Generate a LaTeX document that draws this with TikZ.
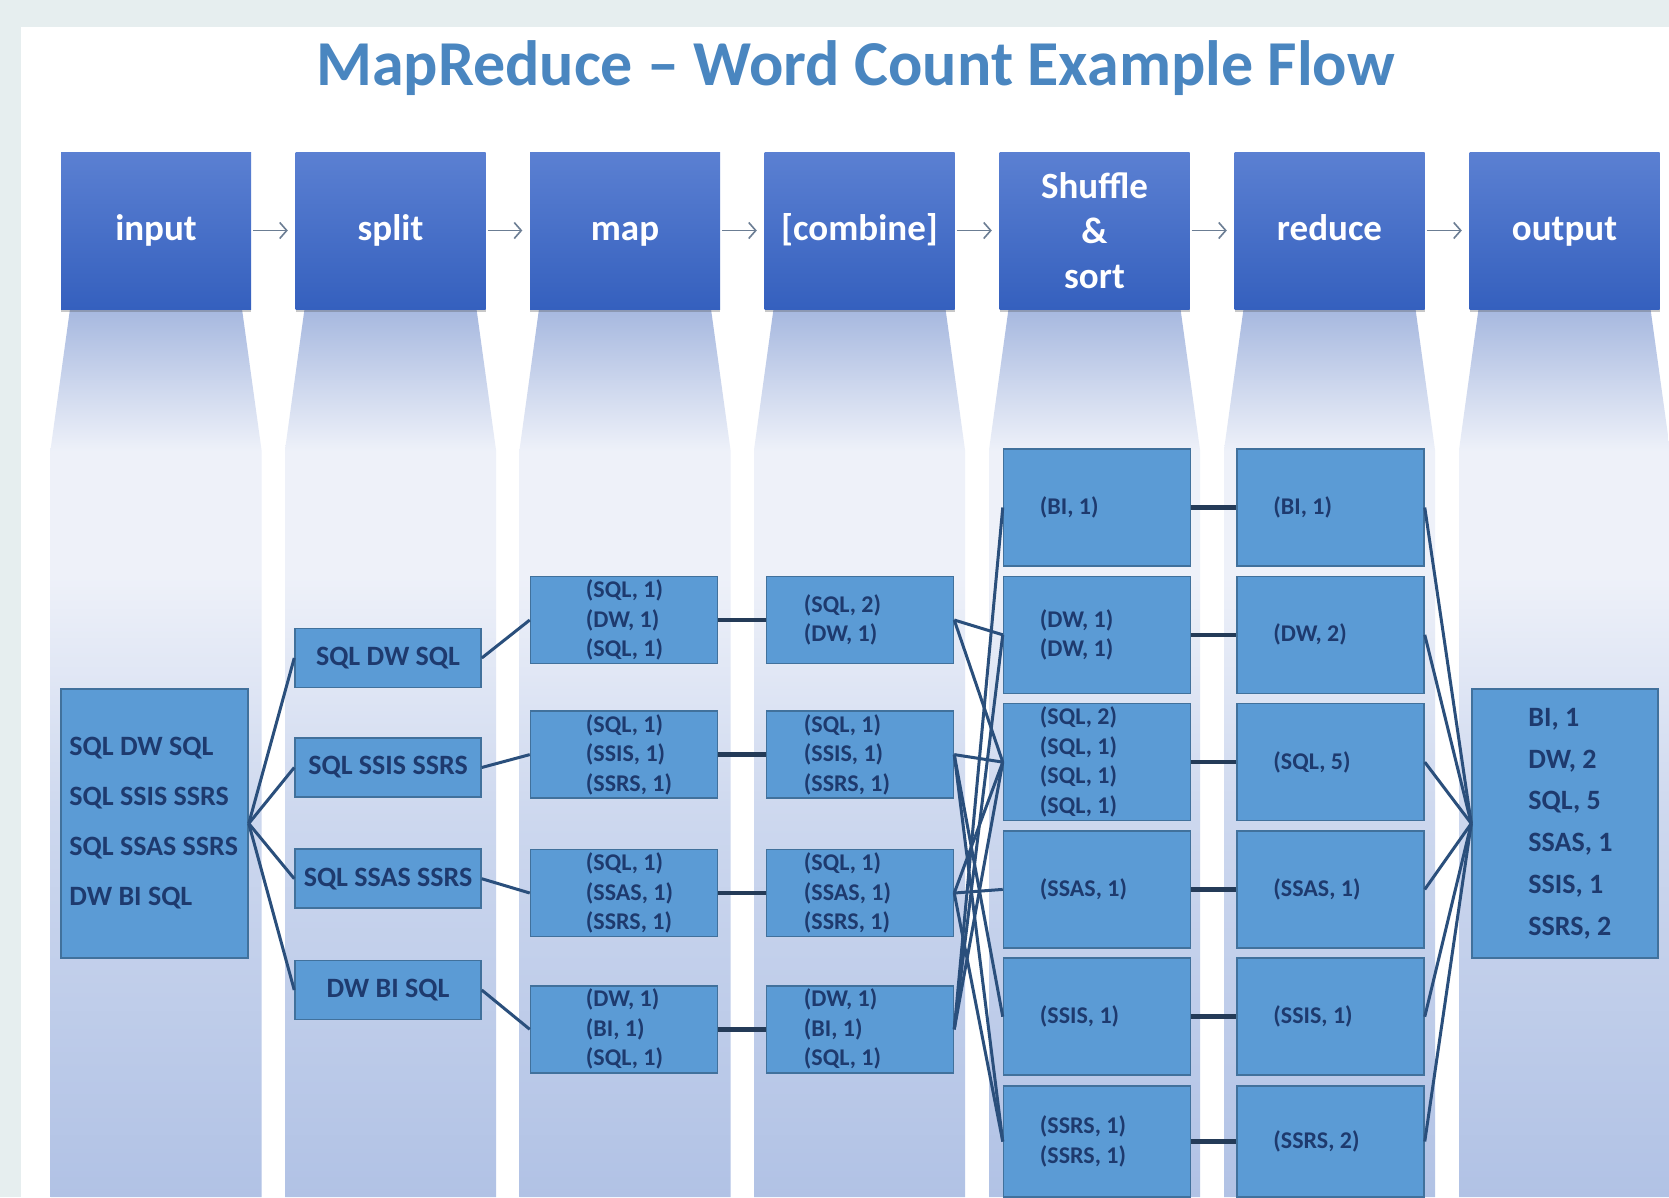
\documentclass[tikz,border=0pt]{standalone}
\usepackage{fontspec}
\setmainfont{Carlito}
\usetikzlibrary{arrows.meta,shadows}
\definecolor{frame}{HTML}{E6EEEF}
\definecolor{titleblue}{HTML}{4A86C0}
\definecolor{hdtop}{HTML}{5B80D2}
\definecolor{hdbot}{HTML}{3560BE}
\definecolor{lanedark}{HTML}{A6B8DF}
\definecolor{lanelight}{HTML}{EEF1F9}
\definecolor{lanemid}{HTML}{CCD7EE}
\definecolor{lanebot}{HTML}{B1C2E5}
\definecolor{boxfill}{HTML}{5B9BD5}
\definecolor{boxline}{HTML}{41719C}
\definecolor{txtnavy}{HTML}{1E3A6E}
\definecolor{linkc}{HTML}{2A4F7C}
\definecolor{linkdark}{HTML}{243B58}
\definecolor{arrowgrey}{HTML}{6B7D93}
\pgfdeclareverticalshading{laneshade}{100bp}{color(0bp)=(lanebot); color(25bp)=(lanebot);
  color(46bp)=(lanemid); color(60bp)=(lanelight); color(67bp)=(lanelight);
  color(75bp)=(lanedark); color(100bp)=(lanedark)}
\begin{document}
\begin{tikzpicture}[x=1pt,y=-1pt,
  hdr/.style={minimum width=190pt, minimum height=157pt, inner sep=0pt,
    top color=hdtop, bottom color=hdbot, text=white, align=center,
    font=\fontsize{37}{45}\selectfont\bfseries,
    drop shadow={shadow xshift=0pt, shadow yshift=-3pt, opacity=.3, fill=black!70}},
  hdrone/.style={hdr, text height=27pt, text depth=8pt},
  dbox/.style={draw=boxline, line width=1.5pt, fill=boxfill, inner sep=0pt},
  dtxt/.style={inner sep=0pt, anchor=west, align=left, text=txtnavy,
    font=\fontsize{24}{29.5}\selectfont\bfseries},
  splitbox/.style={dbox, minimum width=186pt, minimum height=59pt, text=txtnavy,
    font=\fontsize{28}{34}\selectfont\bfseries},
  mbox/.style={dbox, minimum width=187pt, minimum height=87pt},
  sbox/.style={dbox, minimum width=187pt, minimum height=117pt},
  linkline/.style={draw=linkc, line width=3pt},
  hlink/.style={draw=linkdark, line width=4.5pt},
  harrow/.style={draw=arrowgrey, line width=1.6pt, shorten <=2pt, shorten >=7.5pt,
    -{Straight Barb[length=7pt, width=16pt]}}
]
\useasboundingbox (0,0) rectangle (1669,1197);
\clip (0,0) rectangle (1669,1197);
% background
\fill[frame] (0,0) rectangle (1669,1197);
\fill[white] (21,27) rectangle (1669,1197);
% lanes
\foreach \cx in {156,390.5,625,859.5,1094.5,1329.5,1564.5}{
  \shade[shading=laneshade]
    ({\cx-86},309) -- ({\cx+86},309) -- ({\cx+105.5},450) -- ({\cx+105.5},1197)
    -- ({\cx-105.5},1197) -- ({\cx-105.5},450) -- cycle;
}
% title
\node[anchor=base, inner sep=0pt, text=titleblue, font=\fontsize{64}{70}\selectfont\bfseries]
  (title) at (855.5,85) {MapReduce – Word Count Example Flow};
% headers
\node[hdrone] (h1) at (156,230.5) {input};
\node[hdrone] (h2) at (390.5,230.5) {split};
\node[hdrone] (h3) at (625,230.5) {map};
\node[hdrone] (h4) at (859.5,230.5) {[combine]};
\node[hdr] (h5) at (1094.5,230.5) {Shuffle\\\&\\sort};
\node[hdrone] (h6) at (1329.5,230.5) {reduce};
\node[hdrone] (h7) at (1564.5,230.5) {output};
\foreach \a/\b in {h1/h2,h2/h3,h3/h4,h4/h5,h5/h6,h6/h7}
  \draw[harrow] (\a.east) -- (\b.west);
% input
\node[dbox, minimum width=187pt, minimum height=269pt] (in) at (154.5,823.5) {};
\node[dtxt, font=\fontsize{28}{50}\selectfont\bfseries] (intx) at ([xshift=9pt]in.west)
  {SQL DW SQL\\SQL SSIS SSRS\\SQL SSAS SSRS\\DW BI SQL};
% split
\node[splitbox] (sp1) at (388,658) {SQL DW SQL};
\node[splitbox] (sp2) at (388,767.5) {SQL SSIS SSRS};
\node[splitbox] (sp3) at (388,878.7) {SQL SSAS SSRS};
\node[splitbox] (sp4) at (388,990) {DW BI SQL};
% map
\node[mbox] (m1) at (624,620) {};
\node[mbox] (m2) at (624,754.6) {};
\node[mbox] (m3) at (624,893) {};
\node[mbox] (m4) at (624,1029.3) {};
\node[dtxt] (m1t) at ([xshift=56pt]m1.west) {(SQL, 1)\\(DW, 1)\\(SQL, 1)};
\node[dtxt] (m2t) at ([xshift=56pt]m2.west) {(SQL, 1)\\(SSIS, 1)\\(SSRS, 1)};
\node[dtxt] (m3t) at ([xshift=56pt]m3.west) {(SQL, 1)\\(SSAS, 1)\\(SSRS, 1)};
\node[dtxt] (m4t) at ([xshift=56pt]m4.west) {(DW, 1)\\(BI, 1)\\(SQL, 1)};
% combine
\node[mbox] (c1) at (860,620) {};
\node[mbox] (c2) at (860,754.6) {};
\node[mbox] (c3) at (860,893) {};
\node[mbox] (c4) at (860,1029.3) {};
\node[dtxt] (c1t) at ([xshift=38pt]c1.west) {(SQL, 2)\\(DW, 1)};
\node[dtxt] (c2t) at ([xshift=38pt]c2.west) {(SQL, 1)\\(SSIS, 1)\\(SSRS, 1)};
\node[dtxt] (c3t) at ([xshift=38pt]c3.west) {(SQL, 1)\\(SSAS, 1)\\(SSRS, 1)};
\node[dtxt] (c4t) at ([xshift=38pt]c4.west) {(DW, 1)\\(BI, 1)\\(SQL, 1)};
% shuffle
\node[sbox] (s1) at (1097,507.5) {};
\node[sbox] (s2) at (1097,634.8) {};
\node[sbox] (s3) at (1097,762.1) {};
\node[sbox] (s4) at (1097,889.4) {};
\node[sbox] (s5) at (1097,1016.7) {};
\node[sbox, minimum height=111pt] (s6) at (1097,1141.5) {};
\node[dtxt] (s1t) at ([xshift=37pt]s1.west) {(BI, 1)};
\node[dtxt] (s2t) at ([xshift=37pt]s2.west) {(DW, 1)\\(DW, 1)};
\node[dtxt] (s3t) at ([xshift=37pt]s3.west) {(SQL, 2)\\(SQL, 1)\\(SQL, 1)\\(SQL, 1)};
\node[dtxt] (s4t) at ([xshift=37pt]s4.west) {(SSAS, 1)};
\node[dtxt] (s5t) at ([xshift=37pt]s5.west) {(SSIS, 1)};
\node[dtxt] (s6t) at ([xshift=37pt]s6.west) {(SSRS, 1)\\(SSRS, 1)};
% reduce
\node[sbox] (r1) at (1330.5,507.5) {};
\node[sbox] (r2) at (1330.5,634.8) {};
\node[sbox] (r3) at (1330.5,762.1) {};
\node[sbox] (r4) at (1330.5,889.4) {};
\node[sbox] (r5) at (1330.5,1016.7) {};
\node[sbox, minimum height=111pt] (r6) at (1330.5,1141.5) {};
\node[dtxt] (r1t) at ([xshift=37pt]r1.west) {(BI, 1)};
\node[dtxt] (r2t) at ([xshift=37pt]r2.west) {(DW, 2)};
\node[dtxt] (r3t) at ([xshift=37pt]r3.west) {(SQL, 5)};
\node[dtxt] (r4t) at ([xshift=37pt]r4.west) {(SSAS, 1)};
\node[dtxt] (r5t) at ([xshift=37pt]r5.west) {(SSIS, 1)};
\node[dtxt] (r6t) at ([xshift=37pt]r6.west) {(SSRS, 2)};
% output
\node[dbox, minimum width=186pt, minimum height=269pt] (out) at (1565,823.5) {};
\node[dtxt, font=\fontsize{28}{41.8}\selectfont\bfseries] (outt) at ([xshift=57pt]out.west)
  {BI, 1\\DW, 2\\SQL, 5\\SSAS, 1\\SSIS, 1\\SSRS, 2};
% connectors
\foreach \b in {sp1,sp2,sp3,sp4} \draw[linkline] (in.east) -- (\b.west);
\foreach \a/\b in {sp1/m1,sp2/m2,sp3/m3,sp4/m4} \draw[linkline] (\a.east) -- (\b.west);
\foreach \a/\b in {m1/c1,m2/c2,m3/c3,m4/c4} \draw[hlink] (\a.east) -- (\b.west);
\foreach \a/\b in {c1/s2,c1/s3,c2/s3,c2/s5,c2/s6,c3/s3,c3/s4,c3/s6,c4/s1,c4/s2,c4/s3}
  \draw[linkline] (\a.east) -- (\b.west);
\foreach \a/\b in {s1/r1,s2/r2,s3/r3,s4/r4,s5/r5,s6/r6} \draw[hlink] (\a.east) -- (\b.west);
\foreach \a in {r1,r2,r3,r4,r5,r6} \draw[linkline] (\a.east) -- (out.west);
\end{tikzpicture}
\end{document}
